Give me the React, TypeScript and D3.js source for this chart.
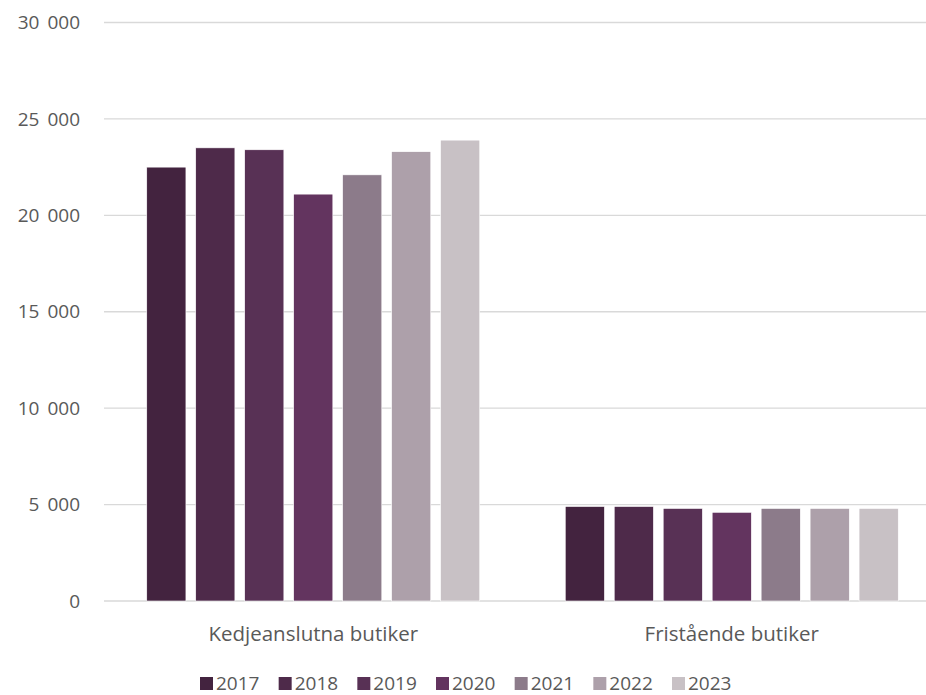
import React from "react";
import * as d3 from "d3";

// data
const categories = ["Kedjeanslutna butiker", "Fristående butiker"];
const years = ["2017", "2018", "2019", "2020", "2021", "2022", "2023"];
const chainValues = [22500, 23500, 23400, 21100, 22100, 23300, 23900];
const independentValues = [4900, 4900, 4800, 4600, 4800, 4800, 4800];
const yTicks = [0, 5000, 10000, 15000, 20000, 25000, 30000];
const colors = ["#43233f", "#4e2a4a", "#583155", "#63345f", "#8c7b8a", "#ada0aa", "#c8c1c5"];

const seriesByCategory = [chainValues, independentValues];

const W = 926;
const H = 695;
const margin = { top: 22.5, right: -15, bottom: 94, left: 104 };
const font = "'Open Sans', sans-serif";
const textColor = "#595959";

const App = () => {
  const x0 = d3.scaleBand().domain(categories).range([margin.left, W - margin.right]);
  const groupPad = 42.75;
  const x1 = d3
    .scaleBand()
    .domain(years)
    .range([groupPad, x0.bandwidth() - groupPad])
    .paddingInner(0.2);
  const y = d3.scaleLinear().domain([0, 30000]).range([H - margin.bottom, margin.top]);
  const fmt = (v: number) => d3.format(",")(v).replace(/,/g, "\u00a0");

  const legendX = d3.scalePoint().domain(years).range([200, 672]);

  return (
    <div style={{ position: "absolute", left: 0, top: 0 }}>
      <svg width={W} height={H} style={{ display: "block", background: "#fff" }}>
        {/* gridlines + y labels */}
        {yTicks.map((t) => (
          <g key={t}>
            <line x1={margin.left} x2={W} y1={y(t)} y2={y(t)} stroke="#d9d9d9" strokeWidth={1.3} />
            <text
              x={80}
              y={y(t)}
              dy="0.35em"
              textAnchor="end"
              fontFamily={font}
              fontSize={19}
              fill={textColor}
              wordSpacing={3}
            >
              {fmt(t)}
            </text>
          </g>
        ))}

        {/* bars */}
        {categories.map((c, ci) => (
          <g key={c} transform={`translate(${x0(c)},0)`}>
            {years.map((yr, i) => {
              const v = seriesByCategory[ci][i];
              return (
                <rect
                  key={yr}
                  x={x1(yr)}
                  y={y(v)}
                  width={x1.bandwidth()}
                  height={y(0) - y(v)}
                  fill={colors[i]}
                  stroke="#ffffff"
                  strokeWidth={0.6}
                />
              );
            })}
            <text
              x={x0.bandwidth() / 2}
              y={641}
              textAnchor="middle"
              fontFamily={font}
              fontSize={20.5}
              fill={textColor}
            >
              {c}
            </text>
          </g>
        ))}

        {/* legend */}
        {years.map((yr, i) => (
          <g key={yr} transform={`translate(${legendX(yr)},0)`}>
            <rect x={0} y={677} width={13} height={13} fill={colors[i]} />
            <text x={16} y={690} fontFamily={font} fontSize={19} fill={textColor}>
              {yr}
            </text>
          </g>
        ))}
      </svg>
    </div>
  );
};

export default App;
